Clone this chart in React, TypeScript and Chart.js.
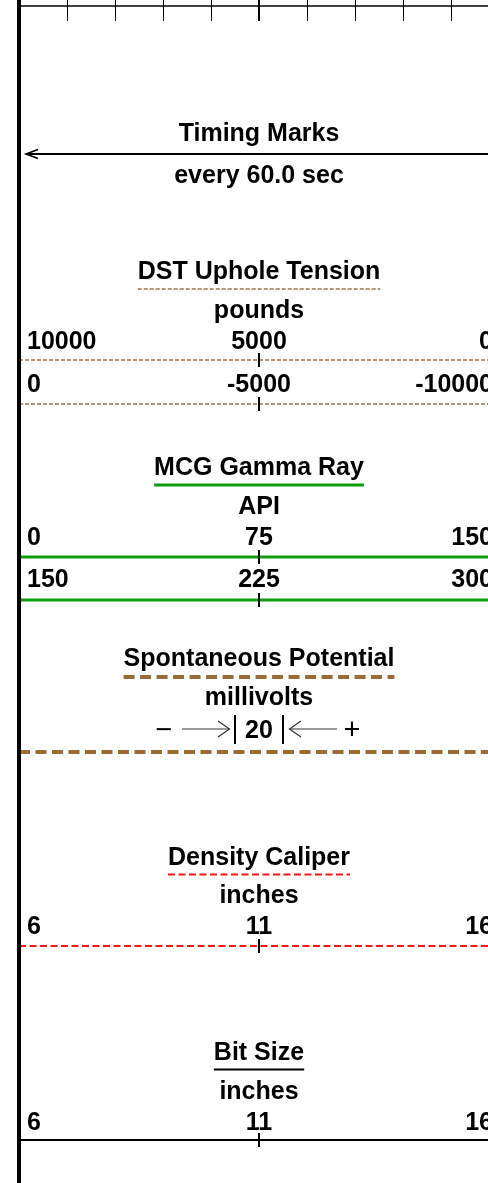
import React, { useEffect, useRef } from "react";
import { Chart, registerables } from "chart.js";

Chart.register(...registerables);

// ---------- data ----------
const gridDivisions = [0, 1, 2, 3, 4, 5, 6, 7, 8, 9, 10];
const timingTitle = "Timing Marks";
const timingInterval = "every 60.0 sec";

const curveNames = ["DST Uphole Tension", "MCG Gamma Ray", "Spontaneous Potential", "Density Caliper", "Bit Size"];
const curveUnits = ["pounds", "API", "millivolts", "inches", "inches"];
const dstScaleRow1 = ["10000", "5000", "0"];
const dstScaleRow2 = ["0", "-5000", "-10000"];
const gammaScaleRow1 = ["0", "75", "150"];
const gammaScaleRow2 = ["150", "225", "300"];
const spScaleValue = "20";
const caliperScaleRow = ["6", "11", "16"];
const bitScaleRow = ["6", "11", "16"];

// ---------- layout / style (not data) ----------
const W = 500;
const H = 1183;
const FONT = 'bold 25px "Liberation Sans", Arial, Helvetica, sans-serif';
const FONT_SIGN = '29px "Liberation Sans", Arial, Helvetica, sans-serif';
const BROWN = "#9c6a36";
const BROWN_DOT = "#a47244";
const GREEN = "#0c9c0c";
const RED = "#ff1414";

// vertical positions (y-scale units = px)
const L = {
  topLine: 6,
  topTickEnd: 21,
  timingTitle: 141,
  timingArrow: 154,
  timingSub: 183,
  dst: { title: 279, ul: 289, unit: 318, row1: 349, line1: 360, row2: 391.5, line2: 404 },
  gr: { title: 475, ul: 485, unit: 514, row1: 545, line1: 557, row2: 587, line2: 600 },
  sp: { title: 666, ul: 677, unit: 705, row1: 738, line1: 752 },
  cal: { title: 865, ul: 874.5, unit: 903, row1: 934, line1: 946 },
  bit: { title: 1060, ul: 1069.5, unit: 1099, row1: 1130, line1: 1140 },
};

type LineStyle = { color: string; width: number; dash: number[] };
const styles: LineStyle[] = [
  { color: BROWN_DOT, width: 1.5, dash: [4, 2] },
  { color: GREEN, width: 3, dash: [] },
  { color: BROWN, width: 4, dash: [11, 5.5] },
  { color: RED, width: 2, dash: [7, 3.5] },
  { color: "#000000", width: 2, dash: [] },
];

const scaleLines: { y: number; s: number }[] = [
  { y: L.dst.line1, s: 0 },
  { y: L.dst.line2, s: 0 },
  { y: L.gr.line1, s: 1 },
  { y: L.gr.line2, s: 1 },
  { y: L.sp.line1, s: 2 },
  { y: L.cal.line1, s: 3 },
  { y: L.bit.line1, s: 4 },
];

const headerPlugin = {
  id: "logHeader",
  afterDatasetsDraw(chart: any) {
    const ctx: CanvasRenderingContext2D = chart.ctx;
    const xs = chart.scales.x;
    const ys = chart.scales.y;
    const X = (v: number) => xs.getPixelForValue(v);
    const Y = (v: number) => ys.getPixelForValue(v);
    const left = X(0);
    const right = X(10);
    const mid = X(5);
    const pad = 6;

    ctx.save();
    ctx.fillStyle = "#000";
    ctx.strokeStyle = "#000";
    ctx.font = FONT;
    ctx.textBaseline = "alphabetic";

    const line = (x1: number, y1: number, x2: number, y2: number, w: number, color = "#000", dash: number[] = []) => {
      ctx.save();
      ctx.strokeStyle = color;
      ctx.lineWidth = w;
      ctx.setLineDash(dash);
      ctx.beginPath();
      ctx.moveTo(x1, y1);
      ctx.lineTo(x2, y2);
      ctx.stroke();
      ctx.restore();
    };
    const text = (t: string, x: number, y: number, align: CanvasTextAlign) => {
      ctx.textAlign = align;
      ctx.fillText(t, x, y);
    };
    const title = (t: string, y: number, ulY: number, st: LineStyle) => {
      text(t, mid, Y(y), "center");
      const w = ctx.measureText(t).width;
      line(mid - w / 2, Y(ulY), mid + w / 2, Y(ulY), st.width, st.color, st.dash);
    };
    const row3 = (labels: string[], y: number) => {
      text(labels[0], left + pad + 2, Y(y), "left");
      text(labels[1], mid, Y(y), "center");
      text(labels[2], right - pad, Y(y), "right");
    };
    const midTick = (y: number) => line(mid, Y(y) - 7, mid, Y(y) + 7, 2);

    // top grid line and ticks
    line(left, Y(L.topLine), right, Y(L.topLine), 1.5);
    gridDivisions.forEach((d) => {
      if (d === 0 || d === 10) return;
      const px = Math.round(X(d));
      if (d === 5) line(px, Y(0), px, Y(L.topTickEnd), 2);
      else line(px + 0.5, Y(0), px + 0.5, Y(L.topTickEnd), 1);
    });

    // timing marks
    text(timingTitle, mid, Y(L.timingTitle), "center");
    text(timingInterval, mid, Y(L.timingSub), "center");
    const ay = Y(L.timingArrow);
    line(left + 7, ay, right, ay, 1.8);
    ctx.save();
    ctx.lineWidth = 1.6;
    ctx.beginPath();
    ctx.moveTo(left + 19, ay - 4.5);
    ctx.lineTo(left + 7, ay);
    ctx.lineTo(left + 19, ay + 4.5);
    ctx.stroke();
    ctx.restore();

    // DST
    title(curveNames[0], L.dst.title, L.dst.ul, styles[0]);
    text(curveUnits[0], mid, Y(L.dst.unit), "center");
    row3(dstScaleRow1, L.dst.row1);
    row3(dstScaleRow2, L.dst.row2);
    midTick(L.dst.line1);
    midTick(L.dst.line2);

    // Gamma ray
    title(curveNames[1], L.gr.title, L.gr.ul, styles[1]);
    text(curveUnits[1], mid, Y(L.gr.unit), "center");
    row3(gammaScaleRow1, L.gr.row1);
    row3(gammaScaleRow2, L.gr.row2);
    midTick(L.gr.line1);
    midTick(L.gr.line2);

    // SP
    title(curveNames[2], L.sp.title, L.sp.ul, styles[2]);
    text(curveUnits[2], mid, Y(L.sp.unit), "center");
    const sy = Y(L.sp.row1);
    const barL = X(4.5);
    const barR = X(5.5);
    text(spScaleValue, mid, sy, "center");
    line(barL, sy - 23, barL, sy + 6, 2);
    line(barR, sy - 23, barR, sy + 6, 2);
    const arY = sy - 9;
    const arC = "#333";
    // right-pointing arrow
    line(mid - 77, arY, mid - 29.5, arY, 1.2, arC);
    ctx.save();
    ctx.strokeStyle = arC;
    ctx.lineWidth = 1.2;
    ctx.beginPath();
    ctx.moveTo(mid - 41, arY - 8);
    ctx.lineTo(mid - 29.5, arY);
    ctx.lineTo(mid - 41, arY + 8);
    ctx.stroke();
    // left-pointing arrow
    ctx.beginPath();
    ctx.moveTo(mid + 42, arY - 8);
    ctx.lineTo(mid + 30.5, arY);
    ctx.lineTo(mid + 42, arY + 8);
    ctx.stroke();
    ctx.restore();
    line(mid + 30.5, arY, mid + 78, arY, 1.2, arC);
    ctx.font = FONT_SIGN;
    text("\u2212", mid - 95, sy + 1, "center");
    text("+", mid + 93, sy + 1, "center");
    ctx.font = FONT;

    // Density caliper
    title(curveNames[3], L.cal.title, L.cal.ul, styles[3]);
    text(curveUnits[3], mid, Y(L.cal.unit), "center");
    row3(caliperScaleRow, L.cal.row1);
    midTick(L.cal.line1);

    // Bit size
    title(curveNames[4], L.bit.title, L.bit.ul, styles[4]);
    text(curveUnits[4], mid, Y(L.bit.unit), "center");
    row3(bitScaleRow, L.bit.row1);
    midTick(L.bit.line1);

    // left track border
    line(left, 0, left, H, 4);

    ctx.restore();
  },
};

export default function App() {
  const ref = useRef<HTMLCanvasElement | null>(null);

  useEffect(() => {
    if (!ref.current) return;
    const chart = new Chart(ref.current, {
      type: "line",
      data: {
        datasets: scaleLines.map((sl) => ({
          data: [
            { x: gridDivisions[0], y: sl.y },
            { x: gridDivisions[gridDivisions.length - 1], y: sl.y },
          ],
          borderColor: styles[sl.s].color,
          borderWidth: styles[sl.s].width,
          borderDash: styles[sl.s].dash,
          pointRadius: 0,
          fill: false,
          tension: 0,
        })),
      },
      options: {
        animation: false,
        responsive: false,
        devicePixelRatio: 1,
        layout: { padding: { left: 19, right: 1, top: 0, bottom: 0 } },
        plugins: { legend: { display: false }, tooltip: { enabled: false } },
        events: [],
        scales: {
          x: { type: "linear", min: 0, max: 10, display: false },
          y: { type: "linear", min: 0, max: H, reverse: true, display: false },
        },
      },
      plugins: [headerPlugin],
    });
    return () => chart.destroy();
  }, []);

  return (
    <div
      style={{
        position: "absolute",
        left: 0,
        top: 0,
        width: 488,
        height: H,
        overflow: "hidden",
        background: "#fff",
      }}
    >
      <canvas ref={ref} width={W} height={H} style={{ width: W, height: H, display: "block" }} />
    </div>
  );
}
